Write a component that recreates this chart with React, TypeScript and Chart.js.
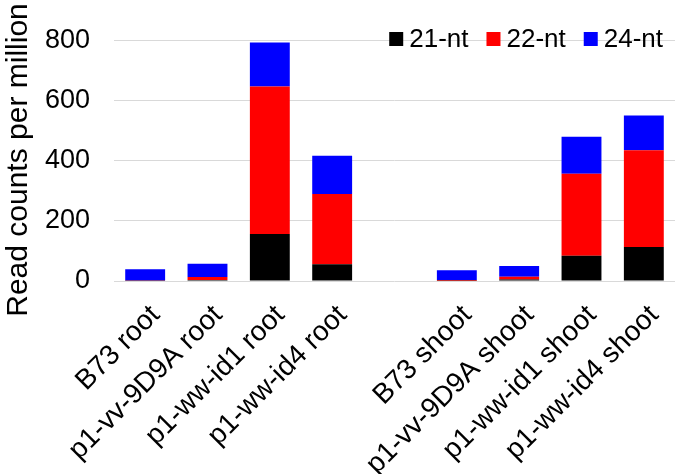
import React, { useEffect, useRef } from "react";
import { Chart, registerables } from "chart.js";

Chart.register(...registerables);

const categories = [
  "B73 root",
  "p1-vv-9D9A root",
  "p1-ww-id1 root",
  "p1-ww-id4 root",
  "",
  "B73 shoot",
  "p1-vv-9D9A shoot",
  "p1-ww-id1 shoot",
  "p1-ww-id4 shoot",
];
const seriesNames = ["21-nt", "22-nt", "24-nt"];
const nt21 = [1, 3, 156, 56, null, 1, 5, 84, 113];
const nt22 = [1, 10, 490, 233, null, 2, 9, 272, 321];
const nt24 = [37, 44, 146, 127, null, 33, 36, 123, 116];
const yTicks = [0, 200, 400, 600, 800];
const yTitle = "Read counts per million";

const FONT = "'Liberation Sans', Arial, sans-serif";
const colors = ["#000000", "#ff0000", "#0000ff"];

const legendPlugin = {
  id: "customLegend",
  afterDraw(chart: any) {
    const ctx = chart.ctx;
    const area = chart.chartArea;
    ctx.save();
    ctx.font = `26px ${FONT}`;
    ctx.textBaseline = "middle";
    ctx.textAlign = "left";
    const box = 14;
    const gapText = 6;
    const gapItem = 18;
    const ds = chart.data.datasets;
    let x = area.right - 12;
    const y = 39;
    for (let i = ds.length - 1; i >= 0; i--) {
      const label = ds[i].label;
      const w = ctx.measureText(label).width;
      const textX = x - w;
      const boxX = textX - gapText - box;
      ctx.fillStyle = ds[i].backgroundColor;
      ctx.fillRect(boxX, y - box / 2, box, box);
      ctx.fillStyle = "#000";
      ctx.fillText(label, textX, y + 1);
      x = boxX - gapItem;
    }
    // y-axis title
    ctx.translate(27, 160);
    ctx.rotate(-Math.PI / 2);
    ctx.font = `30px ${FONT}`;
    ctx.textAlign = "center";
    ctx.textBaseline = "alphabetic";
    ctx.fillStyle = "#000";
    ctx.fillText(yTitle, 0, 0);
    ctx.restore();
  },
};

export default function App() {
  const ref = useRef<HTMLCanvasElement>(null);
  useEffect(() => {
    if (!ref.current) return;
    const values = [nt21, nt22, nt24];
    const chart = new Chart(ref.current, {
      type: "bar",
      data: {
        labels: categories,
        datasets: seriesNames.map((name, i) => ({
          label: name,
          data: values[i],
          backgroundColor: colors[i],
          borderWidth: 0,
          barPercentage: 0.64,
          categoryPercentage: 1,
        })),
      },
      options: {
        animation: false,
        responsive: true,
        maintainAspectRatio: false,
        layout: { padding: { top: 21, right: 3, left: 0, bottom: 0 } },
        plugins: { legend: { display: false }, tooltip: { enabled: false } },
        scales: {
          x: {
            stacked: true,
            grid: { display: false },
            border: { display: false },
            ticks: {
              autoSkip: false,
              maxRotation: 45,
              minRotation: 45,
              padding: 10,
              labelOffset: 10.5,
              color: "#000",
              font: { family: FONT, size: 28 },
            },
            afterFit(scale: any) {
              scale.height = 193;
            },
          },
          y: {
            stacked: true,
            min: 0,
            max: 800,
            afterBuildTicks(scale: any) {
              scale.ticks = yTicks.map((v) => ({ value: v }));
            },
            grid: { color: "#d9d9d9", lineWidth: 1, drawTicks: false },
            border: { display: false },
            ticks: {
              padding: 24,
              color: "#000",
              font: { family: FONT, size: 27 },
            },
            afterFit(scale: any) {
              scale.width = 114;
            },
          },
        },
      },
      plugins: [legendPlugin],
    });
    return () => chart.destroy();
  }, []);
  return (
    <div style={{ position: "fixed", left: 0, top: 0, width: 678, height: 474, background: "#fff" }}>
      <canvas ref={ref} />
    </div>
  );
}
